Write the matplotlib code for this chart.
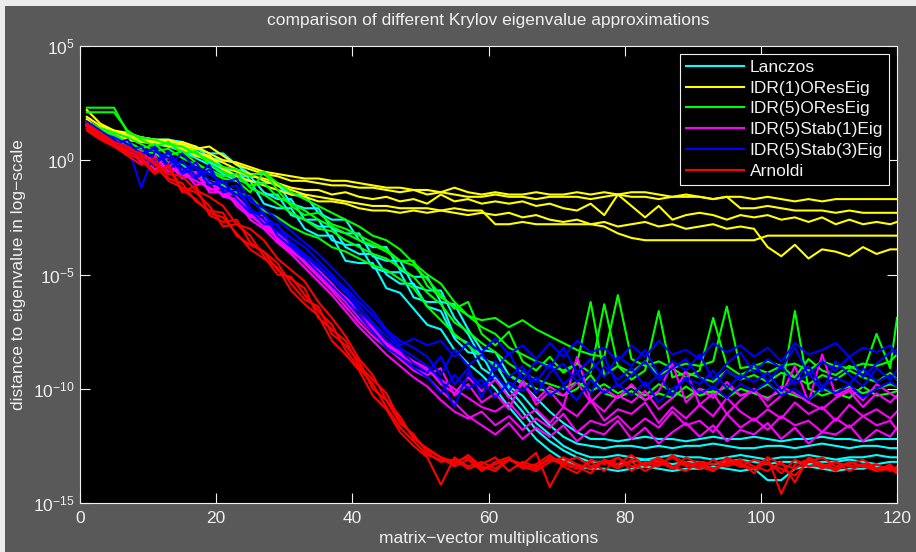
import numpy as np
import matplotlib
matplotlib.use("Agg")
import matplotlib.pyplot as plt
from matplotlib.patches import Rectangle
from matplotlib.ticker import NullLocator

plt.rcParams["font.family"] = ["Liberation Sans", "DejaVu Sans"]
plt.rcParams["mathtext.fontset"] = "custom"
plt.rcParams["mathtext.rm"] = "Liberation Sans"
plt.rcParams["mathtext.it"] = "Liberation Sans:italic"
plt.rcParams["mathtext.bf"] = "Liberation Sans:bold"

# matrix-vector multiplications at which the error is sampled
MATVECS = list(range(1, 120, 2)) + [120]

# log10 of distance to eigenvalue, five eigenvalues per method
LANCZOS = [
    [1.7, 1.3, 1.2, 1.1, 1.0, 0.9, 0.9, 0.8, 0.5, 0.3,
     0.3, -0.2, -0.6, -0.6, -1.1, -1.5, -1.5, -2.3, -2.6, -2.6,
     -3.5, -3.8, -3.8, -4.8, -5.1, -5.1, -6.2, -6.3, -7.4, -8.3,
     -8.4, -9.4, -9.8, -10.4, -11.0, -11.5, -11.9, -12.2, -12.2, -12.3,
     -12.2, -12.1, -12.2, -12.2, -12.3, -12.2, -12.1, -12.2, -12.2, -12.1,
     -12.2, -12.3, -12.2, -12.2, -12.1, -12.2, -12.2, -12.3, -12.2, -12.2,
     -12.2],
    [1.6, 1.4, 1.1, 1.0, 0.9, 0.8, 0.8, 0.7, 0.6, 0.1,
     0.0, -0.1, -0.9, -1.0, -1.0, -1.9, -2.1, -2.1, -3.0, -3.2,
     -3.2, -4.2, -4.4, -4.4, -5.5, -5.7, -5.7, -6.9, -7.6, -8.7,
     -8.9, -9.9, -10.3, -11.0, -11.6, -12.1, -12.4, -12.5, -12.6, -12.5,
     -12.5, -12.6, -12.5, -12.6, -12.5, -12.5, -12.4, -12.5, -12.6, -12.6,
     -12.5, -12.5, -12.6, -12.5, -12.4, -12.5, -12.6, -12.5, -12.5, -12.6,
     -12.6],
    [1.5, 1.2, 1.0, 0.9, 0.8, 0.8, 0.7, 0.5, 0.2, 0.2,
     -0.3, -0.7, -0.7, -1.4, -1.7, -1.7, -2.6, -2.9, -2.9, -3.8,
     -4.1, -4.1, -5.0, -5.4, -5.4, -6.4, -6.6, -7.8, -8.4, -8.5,
     -9.6, -10.0, -10.7, -11.5, -12.0, -12.5, -12.8, -13.0, -13.0, -12.9,
     -13.0, -13.1, -13.0, -12.9, -13.0, -13.0, -13.1, -13.0, -12.9, -13.0,
     -13.1, -13.0, -13.0, -12.9, -13.0, -13.1, -13.0, -13.0, -12.9, -13.0,
     -13.0],
    [1.6, 1.3, 1.1, 1.0, 0.9, 0.9, 0.8, 0.6, 0.3, -0.1,
     -0.4, -0.4, -1.2, -1.5, -1.5, -2.4, -2.6, -2.6, -3.5, -3.7,
     -3.7, -4.7, -4.9, -4.9, -6.0, -6.2, -6.2, -7.7, -8.0, -9.1,
     -9.5, -10.3, -11.0, -11.8, -12.3, -12.7, -13.0, -13.2, -13.2, -13.3,
     -13.2, -13.1, -13.2, -13.3, -13.2, -13.2, -13.3, -13.2, -13.1, -13.2,
     -13.3, -13.2, -13.2, -13.3, -13.2, -13.2, -13.1, -13.2, -13.3, -13.2,
     -13.2],
    [1.5, 1.2, 1.0, 0.9, 0.8, 0.7, 0.6, 0.4, 0.1, -0.2,
     -0.6, -0.9, -0.9, -1.9, -2.1, -2.1, -3.0, -3.3, -3.3, -4.4,
     -4.5, -4.5, -5.6, -5.8, -6.5, -7.2, -7.4, -8.3, -8.9, -9.4,
     -10.0, -10.8, -11.5, -12.2, -12.7, -13.1, -13.4, -13.5, -13.5, -13.6,
     -13.5, -13.4, -13.5, -13.6, -13.5, -13.5, -13.4, -13.5, -13.6, -13.5,
     -14.0, -14.0, -13.5, -13.4, -13.5, -13.6, -13.5, -13.5, -13.4, -13.5,
     -13.5],
]

IDR1_ORES = [
    [1.9, 1.5, 1.3, 1.1, 1.0, 0.9, 0.8, 0.8, 0.6, 0.3,
     0.0, -0.1, -0.3, -0.5, -0.6, -0.7, -0.8, -0.8, -0.9, -0.9,
     -1.0, -1.1, -1.2, -1.2, -1.3, -1.3, -1.4, -1.2, -1.4, -1.5,
     -1.4, -1.5, -1.5, -1.4, -1.5, -1.5, -1.4, -1.5, -1.4, -1.5,
     -1.4, -1.4, -1.5, -1.6, -1.5, -1.6, -1.7, -1.6, -1.6, -1.7,
     -1.6, -1.7, -1.8, -1.7, -1.8, -1.7, -1.7, -1.7, -1.7, -1.7,
     -1.7],
    [2.2, 1.6, 1.3, 1.2, 1.0, 0.9, 0.9, 0.7, 0.5, 0.6,
     0.2, -0.2, -0.4, -0.6, -0.7, -0.9, -0.9, -1.0, -1.1, -1.1,
     -1.2, -1.2, -1.3, -1.4, -1.3, -1.5, -1.4, -1.5, -1.6, -1.6,
     -1.5, -1.6, -1.6, -1.7, -1.6, -1.6, -1.6, -1.7, -1.6, -1.5,
     -1.6, -1.6, -1.7, -1.6, -1.6, -1.6, -1.7, -1.6, -2.1, -2.1,
     -2.0, -2.1, -2.2, -2.2, -2.2, -2.3, -2.2, -2.3, -2.3, -2.3,
     -2.3],
    [1.7, 1.4, 1.2, 1.0, 0.9, 0.8, 0.7, 0.5, 0.2, 0.0,
     -0.3, -0.5, -0.7, -0.8, -1.0, -1.2, -1.3, -1.3, -1.5, -1.4,
     -1.6, -1.7, -1.6, -1.8, -1.7, -1.9, -1.5, -1.8, -1.7, -1.9,
     -1.8, -1.9, -1.8, -2.0, -1.9, -2.1, -2.2, -1.9, -2.4, -1.5,
     -2.0, -2.5, -2.0, -2.6, -2.4, -2.3, -2.4, -2.6, -2.4, -2.5,
     -2.4, -2.6, -2.5, -2.7, -2.5, -2.8, -2.6, -2.8, -2.7, -2.8,
     -2.7],
    [1.8, 1.3, 1.1, 1.0, 0.9, 0.8, 0.7, 0.6, 0.4, 0.1,
     -0.1, -0.4, -0.6, -0.9, -1.1, -1.3, -1.5, -1.6, -1.7, -1.8,
     -1.9, -2.0, -2.0, -2.1, -2.1, -2.1, -2.2, -2.1, -2.2, -2.2,
     -2.8, -2.8, -2.7, -2.8, -2.8, -2.8, -2.8, -2.8, -2.9, -3.2,
     -3.4, -3.5, -3.5, -3.5, -3.5, -3.5, -3.5, -3.5, -3.5, -3.5,
     -3.3, -3.3, -3.3, -3.3, -3.3, -3.3, -3.3, -3.3, -3.3, -3.3,
     -3.3],
    [1.6, 1.2, 1.1, 0.9, 0.8, 0.8, 0.6, 0.7, 0.3, 0.2,
     -0.4, -0.7, -0.9, -1.1, -1.3, -1.5, -1.6, -1.8, -1.8, -1.9,
     -2.1, -2.2, -2.2, -2.3, -2.2, -2.3, -2.2, -2.3, -2.4, -2.3,
     -2.4, -2.3, -2.5, -2.4, -2.6, -2.7, -2.6, -2.8, -2.7, -2.9,
     -2.8, -2.7, -2.9, -2.8, -3.0, -2.9, -2.8, -3.0, -2.9, -3.0,
     -3.8, -4.2, -3.7, -4.3, -3.9, -4.0, -4.2, -3.8, -4.1, -3.9,
     -3.9],
]

IDR5_ORES = [
    [2.3, 2.3, 2.3, 1.2, 1.0, 0.9, 0.7, 0.6, 0.3, 0.0,
     -0.3, -0.4, -0.7, -0.5, -1.0, -1.4, -1.7, -2.0, -2.3, -2.6,
     -2.9, -3.3, -3.5, -3.9, -4.5, -5.0, -5.4, -6.2, -6.8, -7.3,
     -7.6, -8.2, -8.5, -8.8, -9.0, -9.2, -8.9, -9.3, -6.3, -9.0,
     -9.3, -8.8, -9.4, -9.1, -9.5, -9.2, -6.9, -9.0, -9.4, -9.1,
     -9.3, -9.0, -9.5, -8.7, -9.2, -9.4, -9.0, -9.3, -7.6, -9.1,
     -6.9],
    [2.1, 2.1, 2.1, 1.3, 0.9, 0.6, 0.8, 0.3, 0.4, -0.2,
     -0.5, -0.8, -1.1, -1.0, -1.6, -1.9, -2.2, -2.6, -2.9, -3.2,
     -3.5, -3.7, -4.0, -4.4, -4.4, -5.5, -6.0, -6.4, -6.8, -7.0,
     -6.9, -7.3, -7.0, -7.4, -7.7, -8.0, -8.3, -8.5, -8.6, -5.9,
     -8.7, -9.0, -8.8, -9.1, -8.9, -9.0, -8.8, -6.4, -9.1, -9.0,
     -8.8, -9.0, -8.9, -9.2, -8.8, -9.0, -9.1, -8.9, -9.0, -8.8,
     -8.5],
    [1.7, 1.4, 1.2, 1.0, 0.7, 0.4, 0.5, 0.1, -0.2, -0.4,
     -0.7, -0.6, -1.2, -1.5, -1.9, -2.3, -2.6, -3.0, -3.1, -3.5,
     -3.8, -4.1, -4.3, -4.7, -5.1, -5.8, -6.3, -7.1, -7.5, -8.0,
     -8.4, -8.9, -9.3, -9.6, -9.8, -10.0, -9.7, -10.1, -9.8, -10.2,
     -9.9, -10.3, -9.8, -10.1, -10.4, -10.0, -10.2, -9.9, -10.3, -10.1,
     -9.8, -10.2, -6.6, -10.0, -10.3, -10.1, -9.9, -10.2, -10.0, -9.8,
     -9.9],
    [1.5, 1.2, 1.0, 0.6, 0.4, 0.3, -0.1, -0.2, -0.6, -0.9,
     -1.1, -1.4, -1.6, -2.2, -2.5, -2.9, -3.2, -3.4, -3.8, -4.0,
     -4.3, -4.6, -4.8, -5.2, -5.6, -6.4, -7.0, -7.6, -8.1, -8.6,
     -9.0, -9.4, -9.7, -10.0, -10.1, -10.3, -10.0, -9.4, -10.2, -10.4,
     -10.1, -10.5, -10.2, -10.4, -9.9, -10.3, -10.1, -10.4, -10.0, -10.2,
     -10.4, -10.1, -10.3, -10.5, -10.0, -10.2, -10.4, -9.9, -10.3, -10.2,
     -10.1],
    [1.6, 1.3, 1.1, 0.8, 0.5, 0.7, 0.2, 0.4, -0.1, -0.5,
     -0.8, -0.9, -1.4, -0.5, -1.3, -2.0, -2.4, -2.3, -2.8, -3.0,
     -3.3, -3.6, -3.9, -4.4, -4.6, -5.2, -5.9, -6.5, -6.2, -7.6,
     -8.1, -7.5, -8.8, -9.2, -8.6, -9.3, -8.9, -6.2, -9.4, -9.0,
     -9.6, -9.2, -6.6, -9.5, -9.3, -9.5, -9.7, -9.2, -9.6, -9.4,
     -9.7, -9.3, -9.5, -9.8, -9.4, -9.6, -9.2, -9.5, -9.7, -9.3,
     -9.6],
]

IDR5_STAB1 = [
    [1.5, 1.1, 0.8, 0.5, 0.1, 0.0, -0.3, -0.5, -0.7, -1.0,
     -1.3, -1.6, -2.2, -2.7, -3.2, -3.7, -4.2, -4.8, -5.4, -6.1,
     -6.8, -7.4, -8.0, -8.5, -8.9, -9.2, -9.6, -10.0, -10.4, -10.8,
     -11.0, -10.6, -11.3, -10.9, -11.5, -10.8, -11.2, -10.5, -11.4, -10.9,
     -11.1, -10.6, -11.5, -10.8, -11.3, -10.7, -11.2, -10.4, -11.0, -11.4,
     -10.9, -11.3, -10.6, -11.1, -10.8, -11.4, -10.7, -11.2, -10.9, -11.3,
     -11.0],
    [1.6, 1.2, 0.9, 0.3, 0.4, -0.2, 0.1, -0.6, -0.9, -1.2,
     -1.5, -1.8, -2.4, -2.9, -3.4, -3.9, -4.5, -5.1, -5.7, -6.4,
     -7.1, -7.7, -8.2, -8.7, -9.2, -9.5, -10.1, -10.6, -11.2, -11.6,
     -12.0, -11.5, -12.2, -11.7, -12.1, -11.6, -12.3, -11.8, -12.0, -11.4,
     -12.2, -11.7, -12.4, -11.9, -11.5, -12.1, -11.6, -12.3, -11.8, -12.0,
     -11.5, -12.2, -11.7, -12.4, -11.9, -12.0, -11.6, -12.3, -11.8, -12.1,
     -11.7],
    [1.4, 1.0, 0.6, 0.4, 0.2, -0.4, -0.1, -0.8, -0.6, -1.3,
     -1.2, -2.0, -2.5, -2.4, -3.5, -4.0, -4.4, -5.0, -5.6, -6.2,
     -6.9, -7.5, -8.1, -8.6, -9.1, -9.4, -9.1, -10.3, -9.8, -10.6,
     -10.2, -10.9, -9.6, -10.7, -10.1, -10.8, -8.6, -10.5, -11.0, -10.3,
     -10.6, -10.1, -10.9, -10.4, -9.2, -10.7, -10.2, -11.1, -10.5, -10.0,
     -10.8, -10.3, -9.0, -10.6, -10.9, -10.4, -10.1, -10.8, -10.2, -10.6,
     -10.3],
    [1.5, 1.1, 0.7, 0.6, -0.1, 0.2, -0.5, -0.4, -1.1, -0.9,
     -1.6, -1.7, -2.6, -3.0, -3.6, -4.1, -4.7, -5.3, -5.9, -6.6,
     -7.3, -7.9, -8.5, -9.0, -9.5, -9.9, -10.5, -11.0, -11.3, -11.0,
     -11.6, -11.2, -11.8, -11.3, -11.7, -11.1, -11.9, -11.4, -11.6, -11.2,
     -11.8, -11.3, -11.7, -11.0, -11.6, -11.4, -11.9, -11.1, -11.7, -11.3,
     -11.8, -11.2, -11.6, -11.4, -11.9, -11.3, -11.7, -11.2, -11.6, -11.4,
     -11.8],
    [1.6, 1.0, 0.8, 0.4, 0.3, -0.1, -0.2, -0.7, -0.5, -1.4,
     -1.4, -1.9, -2.3, -2.8, -3.3, -3.8, -4.3, -4.9, -5.5, -6.0,
     -6.6, -7.3, -7.9, -8.4, -8.8, -9.1, -9.8, -10.2, -9.5, -10.1,
     -9.6, -10.4, -9.8, -10.5, -9.9, -10.3, -9.7, -10.6, -10.0, -10.4,
     -9.8, -10.5, -10.1, -8.9, -10.6, -10.0, -10.4, -9.7, -10.3, -10.1,
     -10.5, -9.9, -10.2, -10.6, -8.5, -10.3, -10.0, -10.5, -9.8, -10.2,
     -10.4],
]

IDR5_STAB3 = [
    [1.6, 1.2, 1.0, 0.7, 0.3, 0.5, -0.2, 0.3, -0.4, -0.6,
     -1.0, -0.8, -1.8, -2.1, -2.6, -3.1, -3.6, -4.1, -4.7, -5.3,
     -6.0, -6.6, -7.4, -7.9, -8.2, -8.6, -9.4, -8.3, -9.0, -8.5,
     -9.2, -8.4, -9.6, -8.8, -9.1, -8.2, -9.3, -8.7, -9.5, -8.6,
     -9.0, -8.3, -9.4, -8.8, -9.2, -8.5, -9.6, -8.9, -8.4, -9.3,
     -8.7, -9.1, -8.2, -9.4, -8.8, -9.2, -8.6, -9.5, -8.9, -8.4,
     -8.3],
    [1.5, 1.1, 0.8, 0.6, -1.2, 0.4, 0.1, -0.5, -0.1, -0.9,
     -1.2, -1.5, -1.6, -2.4, -2.9, -3.4, -3.8, -4.4, -5.0, -5.7,
     -6.4, -7.1, -7.7, -8.2, -8.6, -9.0, -9.6, -10.8, -9.3, -9.9,
     -9.4, -10.1, -9.2, -9.7, -8.9, -9.8, -9.3, -10.2, -9.0, -9.6,
     -9.1, -9.9, -9.4, -10.3, -9.5, -9.8, -9.2, -10.0, -9.4, -9.7,
     -9.3, -10.1, -9.6, -9.0, -9.9, -9.5, -9.8, -9.1, -9.7, -9.4,
     -9.6],
    [1.7, 1.3, 0.9, 0.4, 0.6, 0.0, 0.3, -0.3, -0.8, -0.4,
     -1.3, -1.1, -2.1, -2.6, -3.1, -3.6, -4.1, -4.6, -5.2, -5.8,
     -6.6, -7.2, -7.9, -8.3, -8.9, -9.3, -8.6, -9.8, -9.1, -10.4,
     -8.8, -9.5, -9.0, -10.2, -9.3, -8.9, -9.7, -9.2, -8.6, -9.9,
     -9.4, -8.8, -9.6, -9.1, -8.7, -9.5, -10.0, -9.2, -9.6, -8.9,
     -9.7, -9.0, -9.8, -9.3, -10.1, -8.8, -9.4, -9.9, -9.1, -9.6,
     -9.2],
    [1.6, 1.0, 0.7, 0.9, 0.1, -0.2, 0.4, -0.6, -0.3, -1.1,
     -0.9, -1.7, -2.3, -2.3, -3.3, -3.8, -4.3, -4.9, -5.5, -6.1,
     -6.8, -7.5, -8.2, -8.6, -9.1, -9.5, -10.2, -9.4, -10.0, -9.6,
     -10.4, -9.7, -10.1, -9.5, -10.3, -9.9, -10.5, -9.6, -10.2, -9.8,
     -10.3, -9.7, -10.6, -10.0, -9.6, -10.2, -9.9, -10.4, -9.8, -10.1,
     -9.7, -10.3, -10.0, -10.5, -9.9, -10.2, -9.8, -10.4, -10.0, -9.7,
     -9.9],
    [1.4, 1.1, 0.8, 0.5, 0.2, 0.6, -0.4, 0.0, -0.7, -0.2,
     -1.4, -1.3, -2.2, -2.8, -2.8, -3.7, -4.2, -4.7, -5.1, -5.6,
     -6.2, -6.8, -7.5, -8.1, -7.8, -8.1, -7.9, -8.6, -8.0, -8.4,
     -7.8, -8.5, -8.1, -8.7, -8.0, -8.6, -7.9, -8.4, -8.2, -8.8,
     -8.1, -8.6, -7.9, -8.5, -8.3, -8.7, -8.0, -8.4, -8.1, -8.6,
     -8.2, -8.8, -8.0, -8.5, -8.3, -8.0, -8.6, -8.2, -8.4, -8.1,
     -8.5],
]

ARNOLDI = [
    [1.5, 1.2, 0.8, 0.6, 0.2, -0.1, -0.6, -0.7, -1.3, -1.6,
     -2.0, -2.8, -3.0, -3.5, -4.3, -4.8, -5.3, -6.2, -6.9, -7.7,
     -8.7, -9.4, -10.5, -11.2, -12.2, -12.6, -13.0, -13.4, -13.1, -13.6,
     -13.2, -13.0, -13.5, -13.3, -12.9, -13.4, -13.7, -13.1, -13.3, -13.0,
     -13.6, -13.2, -13.4, -12.9, -13.3, -13.5, -13.1, -13.4, -13.2, -13.7,
     -13.0, -13.3, -13.5, -13.1, -13.4, -13.2, -13.6, -13.3, -13.5, -13.4,
     -13.6],
    [1.4, 1.0, 0.6, 0.3, 0.0, -0.6, -0.2, -1.3, -1.7, -2.3,
     -2.5, -3.2, -3.9, -4.3, -4.7, -5.7, -6.3, -6.8, -7.9, -8.5,
     -9.2, -10.3, -10.9, -11.9, -12.5, -13.0, -14.2, -13.0, -13.4, -13.2,
     -13.5, -13.1, -13.3, -12.8, -14.3, -13.2, -13.0, -13.4, -13.2, -13.5,
     -13.1, -13.3, -13.0, -13.4, -13.6, -13.2, -13.3, -13.1, -13.4, -13.5,
     -13.0, -14.6, -13.3, -13.1, -13.5, -13.2, -13.4, -13.3, -13.6, -13.5,
     -13.7],
    [1.6, 1.2, 0.7, 0.5, 0.3, -0.2, -0.9, -1.2, -1.4, -2.0,
     -2.9, -2.8, -3.3, -4.2, -5.0, -5.1, -5.9, -6.6, -7.2, -8.3,
     -9.1, -9.8, -10.8, -11.7, -12.3, -12.9, -13.1, -13.3, -12.9, -13.4,
     -13.6, -13.1, -13.3, -13.5, -13.0, -13.2, -13.4, -13.7, -13.1, -13.3,
     -12.9, -13.4, -13.2, -13.5, -13.0, -13.3, -13.6, -13.2, -13.4, -13.1,
     -13.3, -13.5, -13.8, -13.2, -13.0, -13.4, -13.3, -13.1, -13.5, -13.4,
     -13.5],
    [1.3, 0.9, 0.6, 0.2, -0.2, 0.1, -0.8, -1.0, -1.8, -2.2,
     -2.3, -3.3, -3.7, -4.0, -4.5, -5.4, -6.1, -6.4, -7.6, -8.1,
     -8.8, -10.0, -10.5, -11.5, -12.0, -12.8, -13.2, -13.1, -13.5, -13.3,
     -13.0, -13.6, -13.2, -13.4, -13.1, -13.3, -13.5, -13.2, -13.6, -13.0,
     -13.4, -13.3, -13.1, -13.5, -13.2, -13.4, -13.6, -13.0, -13.3, -13.5,
     -13.2, -13.7, -13.1, -13.4, -13.3, -13.6, -13.2, -13.4, -13.6, -13.3,
     -13.6],
    [1.5, 1.1, 0.7, 0.4, 0.1, -0.5, -0.3, -1.4, -1.1, -2.4,
     -2.7, -2.6, -3.6, -4.0, -4.8, -5.2, -5.6, -6.9, -7.4, -7.9,
     -9.0, -9.6, -10.2, -11.4, -12.1, -12.7, -13.0, -13.2, -13.0, -13.5,
     -13.3, -13.1, -13.4, -13.6, -13.2, -13.0, -13.3, -13.5, -13.1, -13.4,
     -13.2, -13.6, -13.3, -13.0, -13.4, -13.2, -13.5, -13.3, -13.1, -13.4,
     -13.6, -13.2, -14.1, -13.0, -13.3, -13.5, -13.2, -13.4, -13.3, -13.6,
     -13.4],
]

METHODS = ["Lanczos", "IDR(1)OResEig", "IDR(5)OResEig",
           "IDR(5)Stab(1)Eig", "IDR(5)Stab(3)Eig", "Arnoldi"]
SERIES = [LANCZOS, IDR1_ORES, IDR5_ORES, IDR5_STAB1, IDR5_STAB3, ARNOLDI]
COLORS = ["#00ffff", "#ffff00", "#00ff00", "#ff00ff", "#0000ff", "#ff0000"]

BG = "#595959"
FG = "#f0f0f0"
FS = 12.5

fig = plt.figure(figsize=(9.16, 5.52), dpi=100, facecolor=BG)
# light border strip along the top and left edge of the screenshot
fig.patches.append(Rectangle((0, 1 - 6 / 552), 1, 6 / 552, transform=fig.transFigure,
                             facecolor="#ececec", edgecolor="none", zorder=-1))
fig.patches.append(Rectangle((0, 0), 5 / 916, 1, transform=fig.transFigure,
                             facecolor="#ececec", edgecolor="none", zorder=-1))

ax = fig.add_axes([80 / 916, 49 / 552, 817 / 916, 457 / 552])
ax.set_facecolor("black")

for name, lines, color in zip(METHODS, SERIES, COLORS):
    for k, vals in enumerate(lines):
        ax.semilogy(MATVECS[:len(vals)], 10.0 ** np.array(vals), color=color,
                    lw=1.5, label=name if k == 0 else None)

ax.set_xlim(0, 120)
ax.set_ylim(1e-15, 1e5)
ax.set_xticks(range(0, 121, 20))
ax.set_yticks([1e-15, 1e-10, 1e-5, 1e0, 1e5])
ax.set_yticklabels([r"$10^{-15}$", r"$10^{-10}$", r"$10^{-5}$", r"$10^{0}$", r"$10^{5}$"])
ax.yaxis.set_minor_locator(NullLocator())
ax.tick_params(which="both", direction="in", top=True, right=True, length=7,
               color=FG, labelcolor=FG, labelsize=FS, width=0.8)
ax.tick_params(axis="x", pad=6)
ax.tick_params(axis="y", pad=4)
for sp in ax.spines.values():
    sp.set_color(FG)
    sp.set_linewidth(0.8)

ax.set_title("comparison of different Krylov eigenvalue approximations",
             color=FG, fontsize=FS, pad=15)
ax.set_xlabel("matrix\u2212vector multiplications", color=FG, fontsize=FS, labelpad=3)
ax.set_ylabel("distance to eigenvalue in log\u2212scale", color=FG, fontsize=FS)
ax.yaxis.set_label_coords(-0.066, 0.5)

leg = ax.legend(loc="upper right", fontsize=FS, facecolor="black", edgecolor=FG,
                labelcolor=FG, fancybox=False, framealpha=1, handlelength=3.3,
                handletextpad=0.35, labelspacing=0.32, borderaxespad=0.45,
                borderpad=0.35)
leg.get_frame().set_linewidth(0.8)

fig.savefig("out.png", dpi=100, facecolor=BG)
